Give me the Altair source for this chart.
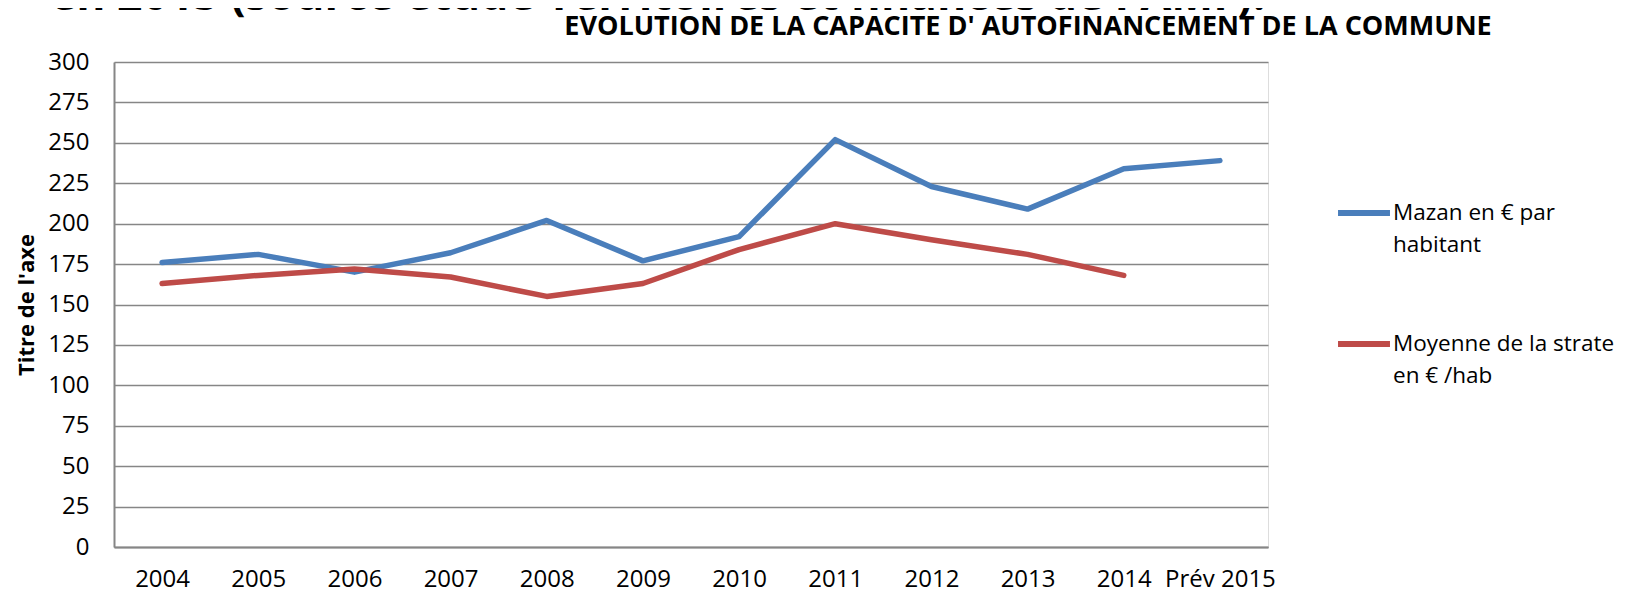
import altair as alt
import pandas as pd

years = ["2004", "2005", "2006", "2007", "2008", "2009", "2010", "2011",
         "2012", "2013", "2014", "Prév 2015"]
mazan = [176, 181, 170, 182, 202, 177, 192, 252, 223, 209, 234, 239]
strate = [163, 168, 172, 167, 155, 163, 184, 200, 190, 181, 168, None]
series_names = ["Mazan en € par habitant", "Moyenne de la strate en € /hab"]
series_colors = ["#4A7EBB", "#BE4B48"]
y_ticks = list(range(0, 301, 25))
title_text = ["EVOLUTION DE LA CAPACITE D' AUTOFINANCEMENT DE LA COMMUNE"]
fragment_text = ["en 2015 (source étude Territoires et finances de l'AMF)."]

rows = []
for i, yr in enumerate(years):
    rows.append({"annee": yr, "serie": series_names[0], "valeur": mazan[i]})
    if strate[i] is not None:
        rows.append({"annee": yr, "serie": series_names[1], "valeur": strate[i]})
df = pd.DataFrame(rows)

FONT = "Open Sans"

lines = alt.Chart(df).mark_line(strokeWidth=5.5, strokeCap="round", strokeJoin="round").encode(
    x=alt.X("annee:N", sort=years, title=None,
            scale=alt.Scale(paddingInner=0, paddingOuter=0),
            axis=alt.Axis(labelAngle=0, ticks=False, labelPadding=20, labelFontSize=24,
                          labelFont=FONT, labelColor="#000000", domainColor="#868686",
                          domainWidth=2, grid=False)),
    y=alt.Y("valeur:Q", title="Titre de l'axe",
            scale=alt.Scale(domain=[0, 300], nice=False, zero=True),
            axis=alt.Axis(values=y_ticks, ticks=False, labelPadding=25, labelFontSize=24,
                          labelFont=FONT, labelColor="#000000", domainColor="#868686",
                          domainWidth=2, gridColor="#868686", gridWidth=1.6,
                          titleFont=FONT, titleFontSize=22, titleFontWeight="bold",
                          titleColor="#000000", titlePadding=9)),
    color=alt.Color("serie:N", sort=series_names,
                    scale=alt.Scale(domain=series_names, range=series_colors),
                    legend=alt.Legend(
                        title=None, orient="none", legendX=1221, legendY=122,
                        symbolType="stroke", symbolSize=2700, symbolStrokeWidth=6,
                        labelFont=FONT, labelFontSize=22.5, labelColor="#000000",
                        labelLimit=400, labelOffset=0, rowPadding=58,
                        labelBaseline="middle",
                        labelExpr="datum.label == 'Mazan en € par habitant' ? ['Mazan en € par', 'habitant'] : ['Moyenne de la strate', 'en € /hab']")),
)

frag = alt.Chart(pd.DataFrame({"t": fragment_text})).mark_text(
    align="left", baseline="alphabetic", fontSize=44.5, font=FONT, fontWeight="bold",
    color="#000000"
).encode(text="t:N", x=alt.value(-64), y=alt.value(-52))

title = alt.Chart(pd.DataFrame({"t": title_text})).mark_text(
    align="center", baseline="alphabetic", fontSize=27, font=FONT, fontWeight="bold",
    color="#000000"
).encode(text="t:N", x=alt.value(914), y=alt.value(-27))

chart = alt.layer(lines, frag, title).properties(
    width=1154, height=485,
    autosize=alt.AutoSizeParams(type="none"),
    padding={"left": 106, "top": 54, "right": 354, "bottom": 46},
).configure_view(stroke=None).configure(
    background="white",
    style={"guide-label": {"lineHeight": 32}},
)

chart.save("out.html", embed_options={"renderer": "svg", "actions": False})
